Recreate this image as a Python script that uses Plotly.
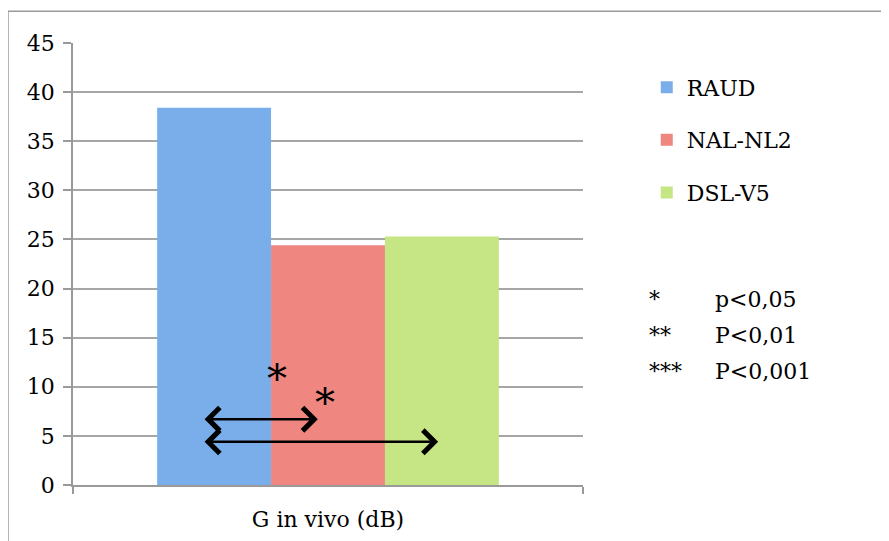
import plotly.graph_objects as go

# data
category = ["G in vivo (dB)"]
methods = ["RAUD", "NAL-NL2", "DSL-V5"]
values = [38.4, 24.4, 25.3]
colors = ["#7aaeea", "#ef8680", "#c6e584"]

sig_marks = ["*", "**", "***"]
sig_texts = ["p<0,05", "P<0,01", "P<0,001"]

font = "DejaVu Serif"

fig = go.Figure()
for i, (m, v, c) in enumerate(zip(methods, values, colors)):
    fig.add_trace(go.Bar(x=category, y=[v], name=m, marker_color=c,
                         marker_line_width=0, legendgroup=str(i)))

# comparison arrows (RAUD vs NAL-NL2, RAUD vs DSL-V5)
arrows = [(-0.245, -0.02, 6.7), (-0.245, 0.216, 4.4)]
for x0, x1, y in arrows:
    fig.add_annotation(x=x1, y=y, ax=x0, ay=y, xref="x", yref="y", axref="x", ayref="y",
                       showarrow=True, arrowhead=4, startarrowhead=4, arrowside="end+start",
                       arrowwidth=2.5, arrowsize=1.8, startarrowsize=1.8, arrowcolor="black", text="")
for x, y in [(-0.1, 10.9), (-0.005, 8.4)]:
    fig.add_annotation(x=x, y=y, xref="x", yref="y", text="*", showarrow=False,
                       font=dict(family=font, size=40, color="black"))

# significance key
for i, (s, t) in enumerate(zip(sig_marks, sig_texts)):
    yy = 0.42 - i * 0.082
    fig.add_annotation(x=1.125, y=yy, xref="paper", yref="paper", text=s, showarrow=False,
                       xanchor="left", yanchor="middle", font=dict(family=font, size=22, color="black"))
    fig.add_annotation(x=1.255, y=yy, xref="paper", yref="paper", text=t, showarrow=False,
                       xanchor="left", yanchor="middle", font=dict(family=font, size=22, color="black"))

# outer chart frame
fig.add_shape(type="rect", xref="paper", yref="paper", x0=-0.1275, x1=1.7, y0=-0.3, y1=1.072,
              line=dict(color="#9a9a9a", width=1.5), layer="below")

fig.update_layout(
    width=889, height=541,
    margin=dict(l=65, r=314, t=35, b=64),
    paper_bgcolor="white", plot_bgcolor="white",
    font=dict(family=font, size=22, color="black"),
    bargap=0.33, barmode="group",
    showlegend=True,
    legend=dict(x=1.125, y=0.947, xanchor="left", yanchor="top", tracegroupgap=21,
                itemwidth=30, font=dict(size=22), bgcolor="rgba(0,0,0,0)"),
    xaxis=dict(showline=True, linecolor="#9a9a9a", linewidth=1.5, ticks="outside",
               tickson="boundaries", ticklen=7, tickcolor="#9a9a9a", tickwidth=1.5,
               ticklabelstandoff=14, range=[-0.5, 0.5]),
    yaxis=dict(range=[0, 45], dtick=5, showgrid=True, gridcolor="#a6a6a6", gridwidth=1.5,
               showline=True, linecolor="#9a9a9a", linewidth=1.5, ticks="outside",
               ticklen=8, tickcolor="#9a9a9a", tickwidth=1.5, zeroline=False,
               ticklabelstandoff=4),
)

fig.write_html("out.html")
